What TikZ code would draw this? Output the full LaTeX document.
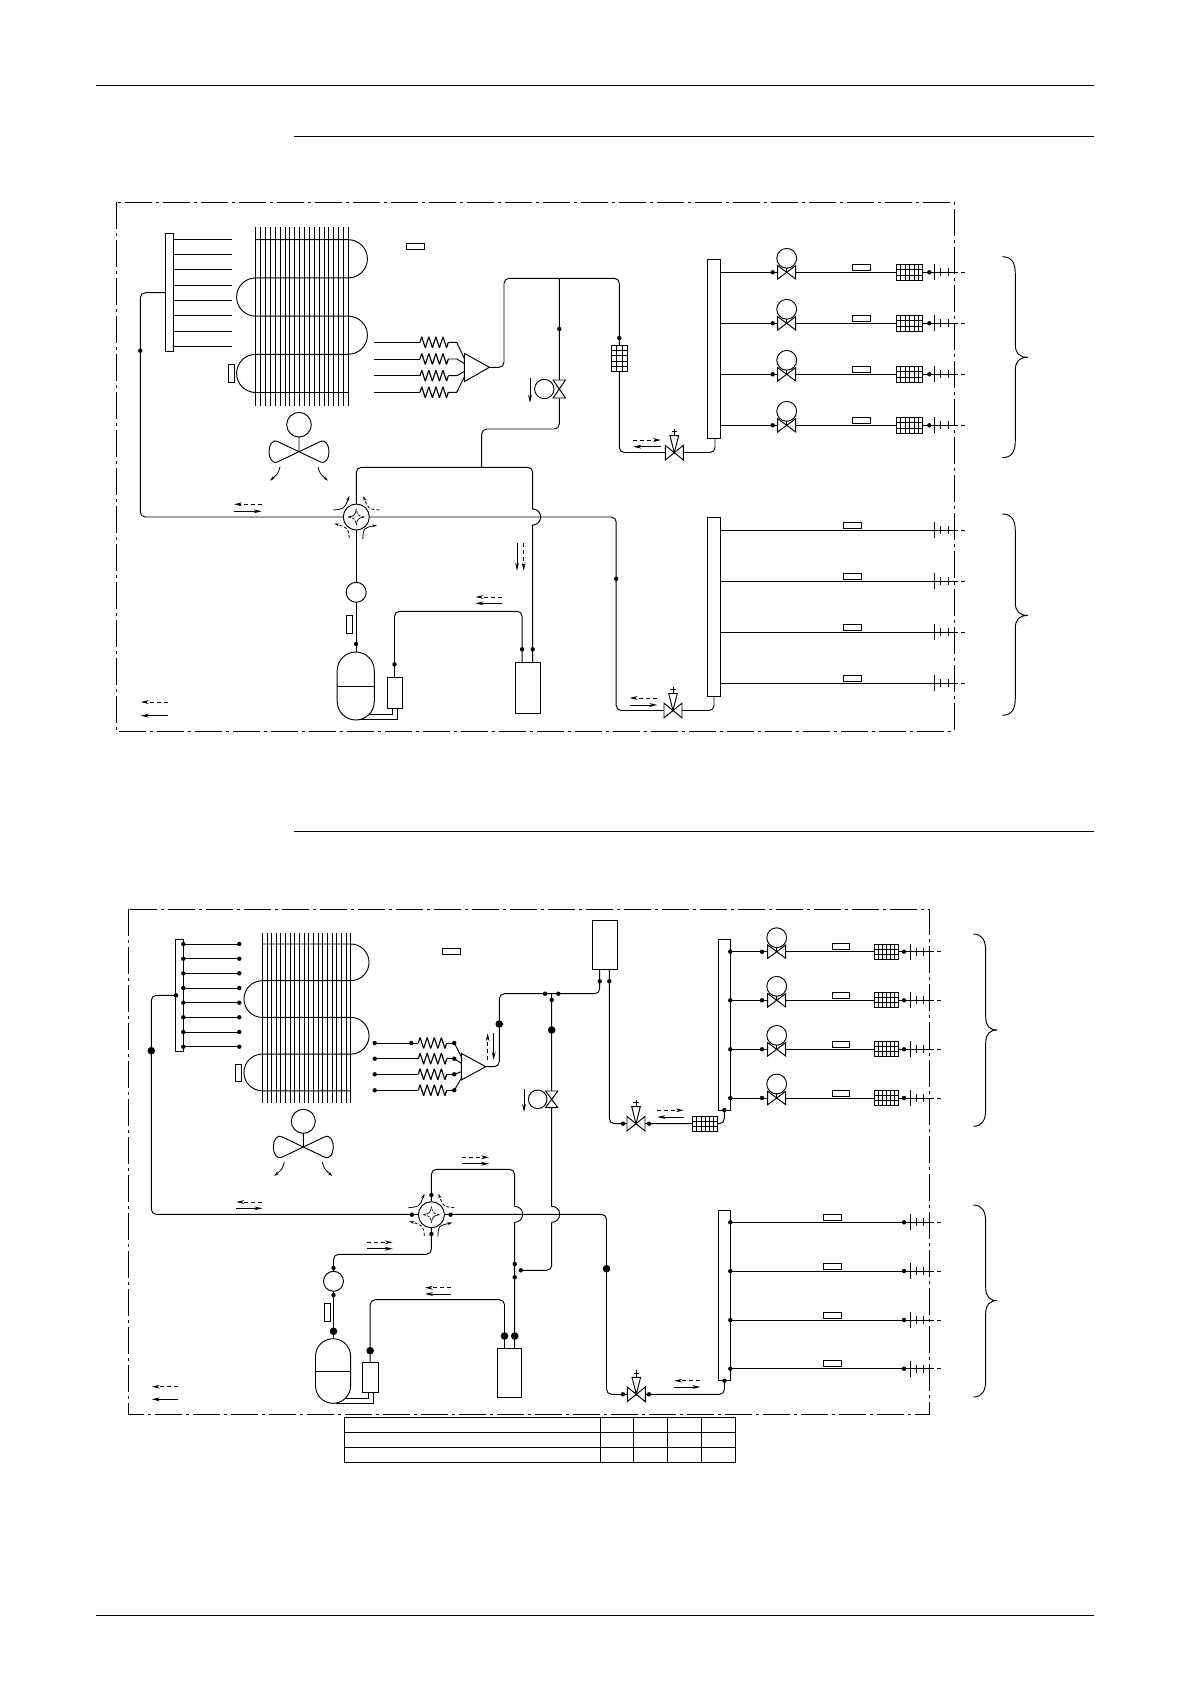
\documentclass[tikz,border=0pt]{standalone}
\usetikzlibrary{arrows.meta}
\tikzset{
  lw/.style={line width=0.95pt},
  pipe/.style={lw,rounded corners=5pt},
  partbox/.style={draw,fill=white,lw,inner sep=0pt,outer sep=0pt},
  framed/.style={line width=0.95pt,dash pattern=on 27pt off 4pt on 3pt off 4pt},
  flowtip/.style={-{Stealth[length=8pt,width=3.8pt]},line width=0.9pt},
  flowdash/.style={flowtip,dash pattern=on 4pt off 3pt},
  airtip/.style={-{Stealth[length=5pt,width=3pt]},line width=0.8pt},
  airdash/.style={airtip,dash pattern=on 3pt off 2pt},
  tailstub/.style={lw,dash pattern=on 4pt off 3pt}
}
\newcommand\pbox[5]{\pgfmathsetmacro\pw{(#4)-(#2)}\pgfmathsetmacro\ph{(#5)-(#3)}\node[partbox,minimum width=\pw pt,minimum height=\ph pt] (#1) at ({((#2)+(#4))/2},{((#3)+(#5))/2}) {};}
\newcommand\jd[2]{\fill (#1,#2) circle[radius=2.2pt];}
\newcommand\bjd[2]{\fill (#1,#2) circle[radius=3.8pt];}
\newcommand\flowS[4]{\draw[flowtip] (#1,#2)--(#3,#4);}
\newcommand\flowD[4]{\draw[flowdash] (#1,#2)--(#3,#4);}
\newcommand\gridbox[6]{\draw[partbox] ({#1},{#2}) rectangle ({#3},{#4});
  \pgfmathtruncatemacro\gc{#5-1}\pgfmathtruncatemacro\gr{#6-1}
  \foreach \i in {1,...,\gc}{\draw[line width=.7pt] ({(#1)+\i*((#3)-(#1))/#5},{#2})--({(#1)+\i*((#3)-(#1))/#5},{#4});}
  \foreach \i in {1,...,\gr}{\draw[line width=.7pt] ({#1},{(#2)+\i*((#4)-(#2))/#6})--({#3},{(#2)+\i*((#4)-(#2))/#6});}}
\newcommand\hvalve[4]{\draw[lw,fill=white,line join=miter] ({#1-#3},{#2-#4})--({#1-#3},{#2+#4})--({#1+#3},{#2-#4})--({#1+#3},{#2+#4})--cycle;}
\newcommand\vvalve[4]{\draw[lw,fill=white] ({#1-#3},{#2-#4})--({#1+#3},{#2-#4})--({#1-#3},{#2+#4})--({#1+#3},{#2+#4})--cycle;}
\newcommand\capvalve[2]{\hvalve{#1}{#2}{9}{7.3}
  \draw[lw,fill=white] ({#1-4.3},{#2-17})--({#1+4.3},{#2-17})--(#1,#2)--cycle;
  \draw[lw] (#1,{#2-17})--(#1,{#2-24}) ({#1-2.8},{#2-21})--({#1+2.8},{#2-21});}
\newcommand\motvalve[2]{\hvalve{#1}{#2}{9}{6.7}\draw[lw,fill=white] (#1,{#2-14}) circle[radius=9.9pt];\draw[lw] (#1,{#2-4.2})--(#1,#2);}
\newcommand\ticks[4]{\draw[lw] (#2,{#1-8})--(#2,{#1+8}) (#3,{#1-4})--(#3,{#1+4}) (#4,{#1-4})--(#4,{#1+4});}
\newcommand\zig[3]{\pgfmathsetmacro\dd{(#2-#1)/16}
  \draw[line width=1.15pt,line join=bevel] (#1,#3)
  --({#1+\dd},{#3-5.5})--({#1+3*\dd},{#3+5.5})--({#1+5*\dd},{#3-5.5})--({#1+7*\dd},{#3+5.5})
  --({#1+9*\dd},{#3-5.5})--({#1+11*\dd},{#3+5.5})--({#1+13*\dd},{#3-5.5})--({#1+15*\dd},{#3+5.5})--(#2,#3);}
\newcommand\coil[6]{\foreach \i in {0,...,19}{\draw[line width=.85pt] ({#1+\i*(#2-#1)/19},#3)--({#1+\i*(#2-#1)/19},#4);}
  \draw[lw] (#1,#5)--(#2,#5) arc[start angle=90,end angle=-90,radius=#6pt]--(#1,{#5+2*#6}) arc[start angle=90,end angle=270,radius=#6pt]
  --(#2,{#5+4*#6}) arc[start angle=90,end angle=-90,radius=#6pt]--(#1,{#5+6*#6}) arc[start angle=90,end angle=270,radius=#6pt]--(#2,{#5+8*#6});}
\newcommand\fan[4]{\draw[lw] (#1,#2) circle[radius=#3pt] (#1,{#2+#3})--(#1,#4);
  \draw[lw,line join=round] (#1,#4)--({#1-21},{#4-10}) .. controls ({#1-27},{#4-13}) and ({#1-30},{#4-6}) .. ({#1-30},#4) .. controls ({#1-30},{#4+6}) and ({#1-27},{#4+13}) .. ({#1-21},{#4+10})--(#1,#4)
  --({#1+21},{#4-10}) .. controls ({#1+27},{#4-13}) and ({#1+30},{#4-6}) .. ({#1+30},#4) .. controls ({#1+30},{#4+6}) and ({#1+27},{#4+13}) .. ({#1+21},{#4+10})--cycle;
  \draw[airtip] ({#1-19},{#4+15}) .. controls ({#1-21},{#4+22}) .. ({#1-29},{#4+29});
  \draw[airtip] ({#1+19},{#4+15}) .. controls ({#1+21},{#4+22}) .. ({#1+29},{#4+29});}
\newcommand\fourway[2]{\draw[lw,fill=white] (#1,#2) circle[radius=13pt];
  \draw[line width=.7pt] ({#1-8},#2) .. controls ({#1-2},{#2-1}) and ({#1-1},{#2-2}) .. (#1,{#2-8});
  \draw[line width=.7pt] ({#1+8},#2) .. controls ({#1+2},{#2+1}) and ({#1+1},{#2+2}) .. (#1,{#2+8});
  \draw[line width=.7pt,dash pattern=on 2.5pt off 1.5pt] ({#1+8},#2) .. controls ({#1+2},{#2-1}) and ({#1+1},{#2-2}) .. (#1,{#2-8});
  \draw[line width=.7pt,dash pattern=on 2.5pt off 1.5pt] ({#1-8},#2) .. controls ({#1-2},{#2+1}) and ({#1-1},{#2+2}) .. (#1,{#2+8});
  \draw[airtip] ({#1-23},{#2-7}) .. controls ({#1-12},{#2-8}) .. ({#1-7},{#2-21});
  \draw[airdash] ({#1+23},{#2-7}) .. controls ({#1+12},{#2-8}) .. ({#1+7},{#2-21});
  \draw[airdash] ({#1-7},{#2+21}) .. controls ({#1-8},{#2+11}) .. ({#1-22},{#2+6.5});
  \draw[airtip] ({#1+6.5},{#2+22}) .. controls ({#1+7},{#2+11}) .. ({#1+21},{#2+8});}
\newcommand\bracer[6]{\draw[lw] (#1,#4) .. controls ({#2-3},#4) and (#2,{#4+7}) .. (#2,{#4+17})--(#2,{#5-13}) .. controls (#2,{#5-4}) and ({#2+4},#5) .. (#3,#5) .. controls ({#2+4},#5) and (#2,{#5+4}) .. (#2,{#5+13})--(#2,{#6-17}) .. controls (#2,{#6-7}) and ({#2-3},#6) .. (#1,#6);}
\newcommand\tank[4]{\pgfmathsetmacro\tr{(#3-#1)/2}\draw[lw,fill=white,rounded corners=\tr pt] (#1,#2) rectangle (#3,#4);}
\begin{document}
\begin{tikzpicture}[x=1pt,y=-1pt]
\useasboundingbox (0,0) rectangle (1190,1684);
\fill[white] (0,0) rectangle (1190,1684);
\coordinate (hdL) at (96,85.5); \coordinate (hdR) at (1094,85.5);
\coordinate (r1L) at (294,136.5); \coordinate (r1R) at (1094,136.5);
\coordinate (r2L) at (294,831); \coordinate (r2R) at (1094,831);
\coordinate (ftL) at (96,1615); \coordinate (ftR) at (1094,1615);
\draw[lw] (hdL)--(hdR) (r1L)--(r1R) (r2L)--(r2R) (ftL)--(ftR);

%%%%%%%% DIAGRAM 1
\coil{255.7}{348.3}{227.3}{405.7}{239.7}{19.1}
\foreach \y in {239.3,254.3,269.7,285,300.3,315.7,331,346.3}{\draw[lw] (173,\y)--(232,\y);}
\coordinate (a1) at (165.7,292.7); \coordinate (a2) at (140.3,292.7); \coordinate (a3) at (140.3,517);
\coordinate (a4) at (616.2,517); \coordinate (a5) at (616.2,710.5); \coordinate (vB) at (673,710.5);
\coordinate (a6) at (714,710.5); \coordinate (a7) at (714,696);
\draw[pipe] (a1)--(a2)--(a3)--(a4)--(a5)--(vB);
\draw[pipe] (vB)--(a6)--(a7);
\coordinate (w) at (356.3,517);
\coordinate (b1) at (356.3,467.3); \coordinate (b2) at (532.7,467.3); \coordinate (b3) at (532.7,509); \coordinate (b4) at (532.7,525); \coordinate (b5) at (532.7,662.3);
\draw[pipe] (w)--(b1)--(b2)--(b3);
\draw[lw] (b3) arc[start angle=90,end angle=-90,radius=8pt]--(b5);
\coordinate (c1) at (559.3,278.3); \coordinate (c2) at (559.3,429); \coordinate (c3) at (481.7,429); \coordinate (c4) at (481.7,467.3);
\draw[pipe] (c1)--(c2)--(c3)--(c4);
\coordinate (d0) at (489.3,367.3); \coordinate (d1) at (504,367.3); \coordinate (d2) at (504,278.3); \coordinate (d3) at (619.3,278.3); \coordinate (d4) at (619.3,452.5); \coordinate (vA) at (674.3,452.5); \coordinate (d5) at (715,452.5); \coordinate (d6) at (715,438.3);
\draw[pipe] (d0)--(d1)--(d2)--(d3)--(d4)--(vA);
\draw[pipe] (vA)--(d5)--(d6);
\coordinate (e0) at (356.3,652);
\draw[lw] (w)--(e0);
\coordinate (f1) at (394.5,677); \coordinate (f2) at (394.5,611.3); \coordinate (f3) at (522.1,611.3); \coordinate (f4) at (522.1,662.3);
\draw[pipe] (f1)--(f2)--(f3)--(f4);
\coordinate (g1) at (392.5,708); \coordinate (g2) at (392.5,714.3); \coordinate (g3) at (362,714.3);
\coordinate (g4) at (397.2,708); \coordinate (g5) at (397.2,719.3); \coordinate (g6) at (352,719.3);
\draw[lw] (g1)--(g2)--(g3) (g4)--(g5)--(g6);
\foreach \y in {342.3,359,375.7,392.3}{\draw[lw] (374,\y)--(420,\y); \zig{420}{448.3}{\y}}
\draw[lw] (448.3,342.3)--(456.7,342.3)--(464.3,358.5) (448.3,359)--(456.7,359)--(464.3,363.5) (448.3,375.7)--(456.7,375.7)--(464.3,371.5) (448.3,392.3)--(456.7,392.3)--(464.3,377);
\draw[lw] (464.3,353.3)--(464.3,381.7)--(489.3,367.3)--cycle;
\foreach \y in {272.3,323.3,374.3,425.3}{
  \draw[lw] (720.7,\y)--(954,\y);
  \draw[tailstub] (954,\y)--(967,\y);
  \jd{772.7}{\y}\motvalve{786.7}{\y}
  \pbox{}{852.7}{\y-8}{870.7}{\y-2}
  \gridbox{896.3}{\y-8}{922.7}{\y+8}{6}{3}
  \jd{929.3}{\y}\ticks{\y}{934}{940.7}{948}
}
\foreach \y in {530.3,581.3,632.3,683.3}{
  \draw[lw] (720.7,\y)--(954,\y);
  \draw[tailstub] (954,\y)--(967,\y);
  \pbox{}{843.7}{\y-8}{861.7}{\y-2}
  \ticks{\y}{934}{940.7}{948}
}
\pbox{hA1}{707.7}{259.7}{720.7}{438.3}
\pbox{hA2}{707.7}{517.3}{720.7}{696}
\pbox{hA3}{165.7}{233.7}{173.3}{351.3}
\pbox{lA1}{406.7}{243.3}{424.7}{249.3}
\pbox{lA2}{228.3}{364.3}{234.7}{382.3}
\gridbox{611.3}{345.3}{627.7}{371.3}{3}{5}
\capvalve{674.3}{452.7}
\capvalve{673}{710.5}
\jd{140.3}{350.7}\jd{559.3}{329}\jd{619.3}{338}\jd{616.2}{578.7}\jd{356.1}{644}\jd{394.5}{664.3}\jd{522.1}{649.3}\jd{532.7}{649.3}
\vvalve{559.3}{389}{6.2}{9}
\draw[lw,fill=white] (544.3,389) circle[radius=9.7pt];
\fourway{356.3}{517}
\draw[partbox] (356.2,592.3) circle[radius=10pt];
\pbox{lA3}{346.2}{615.3}{352.6}{633.7}
\tank{337.2}{652}{374.3}{720}
\draw[lw] (337.2,686)--(374.3,686);
\pbox{sA}{387}{677}{402.4}{708.3}
\pbox{rA}{515}{662.3}{540.3}{713.3}
\fan{299}{424.7}{12.3}{451.7}
\flowD{261.7}{504.3}{234}{504.3}\flowS{234}{511.3}{261.7}{511.3}
\flowS{530}{378.3}{530}{402.7}
\flowS{517}{543.3}{517}{570.7}\flowD{523.7}{543.3}{523.7}{570.7}
\flowD{502.4}{597}{475.5}{597}\flowS{502.4}{603.3}{475.5}{603.3}
\flowD{633.3}{440}{661}{440}\flowS{661}{446.7}{633.3}{446.7}
\flowD{657.3}{698}{629.6}{698}\flowS{629.6}{705}{657.3}{705}
\flowD{168}{702}{140.7}{702}\flowS{168}{715.7}{140.7}{715.7}
\bracer{1002.3}{1015.3}{1028}{256.7}{357.3}{457.7}
\bracer{1002.3}{1015.3}{1028}{514}{615.4}{715.3}
\draw[framed] (116.3,202.3) rectangle (954.3,731.3);

%%%%%%%% DIAGRAM 2
\coil{262.3}{350.7}{932.7}{1102.7}{944}{18.35}
\foreach \y in {944,958.7,973.3,988,1002.7,1017.3,1032,1046.7}{\draw[lw] (183,\y)--(239.3,\y);\jd{239.3}{\y}}
\coordinate (p1) at (176,995.3); \coordinate (p2) at (151.3,995.3); \coordinate (p3) at (151.3,1214.3);
\coordinate (p4) at (606.5,1214.3); \coordinate (p5) at (606.5,1394.3); \coordinate (vD) at (636.3,1394.3);
\coordinate (p6) at (724.5,1394.3); \coordinate (p7) at (724.5,1380.7);
\draw[pipe] (p1)--(p2)--(p3)--(p4)--(p5)--(vD);
\draw[pipe] (vD)--(p6)--(p7);
\coordinate (W) at (431.4,1214.7);
\coordinate (q1) at (431.4,1169.3); \coordinate (q2) at (514.7,1169.3); \coordinate (q3) at (514.7,1206.3); \coordinate (q4) at (514.7,1222.3); \coordinate (q5) at (514.7,1348.3);
\draw[pipe] (W)--(q1)--(q2)--(q3);
\draw[lw] (q3) arc[start angle=90,end angle=-90,radius=8pt]--(q5);
\coordinate (s1) at (551.7,993.7); \coordinate (s2) at (551.7,1206.3); \coordinate (s3) at (551.7,1222.3); \coordinate (s4) at (551.7,1270.3); \coordinate (s5) at (520.8,1270.3);
\draw[lw] (s1)--(s2) arc[start angle=90,end angle=-90,radius=8pt]--(s3);
\draw[pipe] (s3)--(s4)--(s5);
\coordinate (t0) at (485.7,1066.7); \coordinate (t1) at (499.3,1066.7); \coordinate (t2) at (499.3,993.7); \coordinate (t3) at (599.7,993.7); \coordinate (t4) at (599.7,969.3);
\draw[pipe] (t0)--(t1)--(t2)--(t3)--(t4);
\coordinate (u1) at (609.3,969.3); \coordinate (u2) at (609.3,1123.7); \coordinate (vC) at (636,1123.7); \coordinate (u3) at (724.3,1123.7); \coordinate (u4) at (724.3,1110);
\draw[pipe] (u1)--(u2)--(vC);
\draw[pipe] (vC)--(u3)--(u4);
\coordinate (x1) at (431.4,1254.3); \coordinate (x2) at (333.5,1254.3); \coordinate (x3) at (333.5,1338.7);
\draw[pipe] (W)--(x1)--(x2)--(x3);
\coordinate (y1) at (370.2,1362.7); \coordinate (y2) at (370.2,1299.7); \coordinate (y3) at (504.5,1299.7); \coordinate (y4) at (504.5,1348.3);
\draw[pipe] (y1)--(y2)--(y3)--(y4);
\coordinate (z1) at (368,1392); \coordinate (z2) at (368,1398.3); \coordinate (z3) at (343,1398.3);
\coordinate (z4) at (373,1392); \coordinate (z5) at (373,1403.3); \coordinate (z6) at (336,1403.3);
\draw[lw] (z1)--(z2)--(z3) (z4)--(z5)--(z6);
\foreach \y in {1043,1058.7,1074.3,1090.3}{\draw[lw] (374.7,\y)--(418.3,\y); \zig{418.3}{446.7}{\y}\draw[lw] (446.7,\y)--(454.3,\y);\jd{374.7}{\y}\jd{454.3}{\y}}
\jd{411.3}{1043}
\draw[lw] (454.3,1043)--(461.3,1056.7) (454.3,1058.7)--(461.3,1063.3) (454.3,1074.3)--(461.3,1071.7) (454.3,1090.3)--(461.3,1078.3);
\draw[lw] (461.3,1053.3)--(461.3,1080)--(485.7,1066.7)--cycle;
\foreach \y in {951.7,1000.3,1049.3,1098}{
  \draw[lw] (730.3,\y)--(929.7,\y);
  \draw[tailstub] (929.7,\y)--(943.3,\y);
  \jd{762}{\y}\motvalve{776.7}{\y}
  \pbox{}{832.7}{\y-8}{849.7}{\y-2}
  \gridbox{874.3}{\y-7.5}{898.7}{\y+7.5}{6}{3}
  \jd{904}{\y}\ticks{\y}{910}{916.7}{923.3}
}
\foreach \y in {1222.3,1271,1320,1368.7}{
  \draw[lw] (730.6,\y)--(929.7,\y);
  \draw[tailstub] (929.7,\y)--(943.3,\y);
  \pbox{}{823}{\y-8}{841}{\y-2}
  \jd{904}{\y}\ticks{\y}{910}{916.7}{923.3}
}
\pbox{hB1}{718.3}{939.3}{730.3}{1110.7}
\pbox{hB2}{718.4}{1210.3}{730.6}{1380.7}
\foreach \y in {951.7,1000.3,1049.3,1098,1222.3,1271,1320,1368.7}{\jd{730.3}{\y}}
\pbox{hB3}{175.3}{939.3}{183.3}{1051.7}
\foreach \y in {944,958.7,973.3,988,1002.7,1017.3,1032,1046.7}{\jd{183.3}{\y}}
\jd{176}{995.3}
\pbox{lB1}{442.7}{948.3}{460}{954}
\pbox{lB2}{235.3}{1064}{241.3}{1081.3}
\pbox{rB}{592.3}{920.3}{617}{969.3}
\pbox{rC}{497.6}{1348.3}{521.6}{1397.3}
\gridbox{692.7}{1116.3}{717.3}{1131.3}{6}{3}
\capvalve{636}{1123.7}
\capvalve{636.3}{1394.3}
\jd{599.7}{981.3}\jd{609.3}{981.3}\jd{545}{993.7}\jd{558.3}{993.7}\jd{551.7}{1000}
\bjd{499.3}{1024}\bjd{551.7}{1030}\bjd{151.3}{1050.7}\bjd{606.5}{1268.7}\bjd{333.5}{1331.3}\bjd{370.2}{1350.7}\bjd{504.5}{1336}\bjd{514.7}{1336}
\jd{623}{1123.7}\jd{649}{1123.7}\jd{622.9}{1394.3}\jd{649}{1394.3}\jd{724.3}{1110}\jd{724.5}{1380.7}
\jd{514.7}{1264}\jd{514.7}{1277.3}\jd{520.8}{1270.3}\jd{333.5}{1268}\jd{333.5}{1295}
\vvalve{551.7}{1099.3}{6.2}{8.3}
\draw[lw,fill=white] (537.7,1099.3) circle[radius=9.3pt];
\fourway{431.4}{1214.7}
\jd{431.4}{1195}\jd{431.4}{1234}\jd{411.8}{1214.7}\jd{450.6}{1214.7}
\draw[partbox] (333.5,1281.3) circle[radius=10pt];
\pbox{lB3}{324.5}{1303.7}{330.2}{1321}
\tank{315.5}{1338.7}{350.6}{1403.3}
\draw[lw] (315.5,1371)--(350.6,1371);
\pbox{sB}{362.9}{1362.7}{378}{1392.3}
\fan{303.3}{1121.3}{12}{1147}
\flowD{487.7}{1060}{487.7}{1033.3}\flowS{493.7}{1033.3}{493.7}{1060}
\flowS{524}{1089.3}{524}{1112}
\flowD{657.3}{1110.3}{683.7}{1110.3}\flowS{683.7}{1117}{657.3}{1117}
\flowD{262.4}{1202}{236.3}{1202}\flowS{236.3}{1208.3}{262.4}{1208.3}
\flowD{462.4}{1157.3}{489}{1157.3}\flowS{462.4}{1163.7}{489}{1163.7}
\flowD{366.5}{1242.3}{392.7}{1242.3}\flowS{366.5}{1248.7}{392.7}{1248.7}
\flowD{451}{1287.7}{425}{1287.7}\flowS{451}{1294}{425}{1294}
\flowD{700.4}{1380.7}{674.3}{1380.7}\flowS{674.3}{1387}{700.4}{1387}
\flowD{178}{1386.7}{151.8}{1386.7}\flowS{178}{1399.3}{151.8}{1399.3}
\bracer{973.3}{985.7}{997.3}{934}{1030}{1126.3}
\bracer{973.3}{985.7}{997.3}{1205}{1300.6}{1397}
\draw[framed] (128.3,909.3) rectangle (929.7,1414.3);
\draw[lw] (344.9,1417.7) rectangle (735.5,1462.3);
\draw[lw] (344.9,1432.3)--(735.5,1432.3) (344.9,1447)--(735.5,1447);
\foreach \x in {600,633.9,667.8,701.6}{\draw[lw] (\x,1417.7)--(\x,1462.3);}
\end{tikzpicture}
\end{document}
